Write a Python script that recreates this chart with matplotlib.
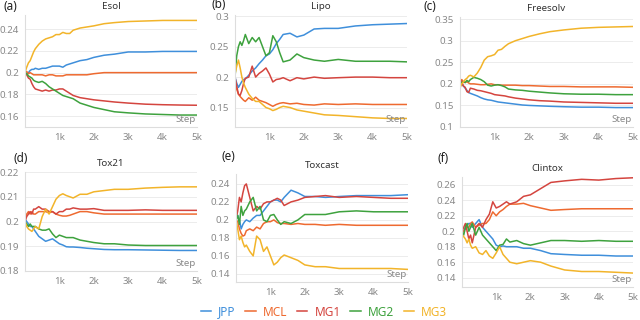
import matplotlib
matplotlib.use("Agg")
import matplotlib.pyplot as plt

plt.rcParams['font.family'] = ['Noto Sans', 'DejaVu Sans']

steps = [0, 50, 100, 150, 200, 250, 300, 400, 500, 600, 700, 800, 900, 1000, 1100,
         1200, 1300, 1400, 1600, 1800, 2000, 2300, 2600, 3000, 3500, 4000, 4500, 5000]

methods = ["JPP", "MCL", "MG1", "MG2", "MG3"]
colors = ["#3f8fdb", "#ee6a30", "#d4453f", "#3ea23e", "#f2b42a"]

# (a) Esol
esol_jpp = [0.2, 0.199, 0.2, 0.202, 0.203, 0.203, 0.204, 0.203, 0.204, 0.204, 0.205, 0.206, 0.206, 0.206, 0.205,
            0.207, 0.208, 0.209, 0.211, 0.212, 0.214, 0.216, 0.217, 0.219, 0.219, 0.2195, 0.2195, 0.2195]
esol_mcl = [0.2, 0.201, 0.199, 0.2, 0.199, 0.198, 0.198, 0.198, 0.198, 0.197, 0.198, 0.198, 0.197, 0.197, 0.197,
            0.198, 0.198, 0.198, 0.198, 0.198, 0.199, 0.2, 0.2, 0.2, 0.2, 0.2, 0.2, 0.2]
esol_mg1 = [0.2, 0.198, 0.195, 0.194, 0.19, 0.187, 0.185, 0.184, 0.183, 0.184, 0.183, 0.184, 0.184, 0.185, 0.185,
            0.183, 0.181, 0.179, 0.177, 0.176, 0.175, 0.174, 0.173, 0.172, 0.171, 0.1705, 0.1702, 0.17]
esol_mg2 = [0.2, 0.199, 0.197, 0.196, 0.195, 0.193, 0.192, 0.191, 0.192, 0.19, 0.187, 0.185, 0.183, 0.181, 0.179,
            0.178, 0.177, 0.176, 0.172, 0.17, 0.168, 0.166, 0.164, 0.163, 0.162, 0.1615, 0.161, 0.161]
esol_mg3 = [0.2, 0.205, 0.209, 0.211, 0.215, 0.219, 0.222, 0.226, 0.229, 0.231, 0.232, 0.233, 0.235, 0.235, 0.237,
            0.236, 0.236, 0.239, 0.241, 0.242, 0.243, 0.245, 0.246, 0.247, 0.2475, 0.248, 0.248, 0.248]

# (b) Lipo
lipo_jpp = [0.2, 0.19, 0.183, 0.188, 0.193, 0.196, 0.197, 0.203, 0.21, 0.215, 0.222, 0.228, 0.235, 0.238, 0.245,
            0.255, 0.262, 0.27, 0.272, 0.266, 0.269, 0.279, 0.28, 0.28, 0.284, 0.286, 0.287, 0.288]
lipo_mcl = [0.195, 0.18, 0.172, 0.168, 0.165, 0.162, 0.16, 0.166, 0.162, 0.167, 0.162, 0.16, 0.158, 0.155, 0.152,
            0.155, 0.157, 0.158, 0.156, 0.157, 0.155, 0.154, 0.156, 0.155, 0.156, 0.155, 0.155, 0.155]
lipo_mg1 = [0.2, 0.185, 0.172, 0.17, 0.178, 0.19, 0.198, 0.2, 0.218, 0.2, 0.206, 0.21, 0.215, 0.205, 0.192,
            0.196, 0.197, 0.199, 0.194, 0.199, 0.197, 0.2, 0.198, 0.199, 0.2, 0.2, 0.199, 0.199]
lipo_mg2 = [0.2, 0.235, 0.25, 0.258, 0.252, 0.26, 0.27, 0.255, 0.265, 0.258, 0.265, 0.25, 0.235, 0.24, 0.268,
            0.258, 0.24, 0.225, 0.228, 0.238, 0.232, 0.228, 0.226, 0.229, 0.226, 0.226, 0.226, 0.225]
lipo_mg3 = [0.205, 0.218, 0.228, 0.215, 0.2, 0.19, 0.183, 0.172, 0.165, 0.16, 0.16, 0.155, 0.15, 0.148, 0.145,
            0.147, 0.15, 0.152, 0.15, 0.146, 0.144, 0.141, 0.138, 0.137, 0.135, 0.133, 0.132, 0.132]

# (c) Freesolv
free_jpp = [0.2, 0.198, 0.195, 0.19, 0.185, 0.18, 0.178, 0.175, 0.172, 0.168, 0.165, 0.163, 0.162, 0.16, 0.158,
            0.157, 0.156, 0.155, 0.153, 0.151, 0.15, 0.149, 0.148, 0.147, 0.146, 0.146, 0.145, 0.145]
free_mcl = [0.205, 0.21, 0.205, 0.203, 0.205, 0.202, 0.2, 0.2, 0.199, 0.198, 0.198, 0.199, 0.2, 0.198, 0.198,
            0.197, 0.197, 0.197, 0.197, 0.196, 0.196, 0.195, 0.194, 0.194, 0.193, 0.193, 0.193, 0.192]
free_mg1 = [0.21, 0.205, 0.195, 0.192, 0.182, 0.18, 0.19, 0.188, 0.185, 0.184, 0.182, 0.18, 0.178, 0.175, 0.174,
            0.173, 0.172, 0.17, 0.167, 0.165, 0.163, 0.161, 0.16, 0.158, 0.157, 0.156, 0.155, 0.155]
free_mg2 = [0.2, 0.203, 0.205, 0.203, 0.208, 0.205, 0.21, 0.215, 0.213, 0.21, 0.205, 0.197, 0.195, 0.197, 0.198,
            0.196, 0.193, 0.188, 0.186, 0.185, 0.183, 0.181, 0.179, 0.177, 0.176, 0.176, 0.175, 0.175]
free_mg3 = [0.19, 0.2, 0.205, 0.21, 0.213, 0.218, 0.22, 0.216, 0.225, 0.238, 0.255, 0.263, 0.265, 0.268, 0.278,
            0.28, 0.287, 0.293, 0.3, 0.305, 0.31, 0.316, 0.321, 0.325, 0.329, 0.331, 0.332, 0.333]

# (d) Tox21
tox21_jpp = [0.201, 0.2, 0.199, 0.198, 0.198, 0.197, 0.196, 0.194, 0.193, 0.192, 0.1925, 0.193, 0.192, 0.191, 0.1905,
             0.1898, 0.1897, 0.1897, 0.1895, 0.1892, 0.189, 0.1887, 0.1886, 0.1886, 0.1885, 0.1884, 0.1883, 0.1883]
tox21_mcl = [0.201, 0.203, 0.204, 0.203, 0.204, 0.203, 0.203, 0.204, 0.204, 0.204, 0.2035, 0.204, 0.203, 0.2025, 0.2022,
             0.2022, 0.2025, 0.203, 0.204, 0.204, 0.2035, 0.203, 0.203, 0.203, 0.203, 0.203, 0.203, 0.203]
tox21_mg1 = [0.2, 0.202, 0.203, 0.204, 0.203, 0.205, 0.205, 0.206, 0.205, 0.205, 0.204, 0.204, 0.203, 0.204, 0.204,
             0.205, 0.205, 0.2055, 0.205, 0.205, 0.2052, 0.2045, 0.2045, 0.2045, 0.2047, 0.2045, 0.2045, 0.2045]
tox21_mg2 = [0.2, 0.199, 0.198, 0.199, 0.198, 0.198, 0.198, 0.197, 0.1965, 0.1965, 0.197, 0.195, 0.1935, 0.1945, 0.194,
             0.1935, 0.1935, 0.1935, 0.1925, 0.192, 0.1915, 0.191, 0.191, 0.1905, 0.1903, 0.1903, 0.1903, 0.1903]
tox21_mg3 = [0.2, 0.198, 0.197, 0.1965, 0.196, 0.197, 0.198, 0.197, 0.202, 0.205, 0.203, 0.206, 0.209, 0.2105, 0.2112,
             0.2105, 0.21, 0.2095, 0.211, 0.211, 0.212, 0.2125, 0.213, 0.213, 0.2135, 0.2138, 0.214, 0.214]

# (e) Toxcast
toxcast_jpp = [0.2, 0.205, 0.2, 0.19, 0.195, 0.198, 0.2, 0.198, 0.202, 0.205, 0.205, 0.21, 0.215, 0.22, 0.222,
               0.222, 0.22, 0.225, 0.233, 0.23, 0.226, 0.226, 0.225, 0.226, 0.227, 0.227, 0.227, 0.228]
toxcast_mcl = [0.2, 0.198, 0.19, 0.185, 0.182, 0.183, 0.188, 0.19, 0.188, 0.192, 0.19, 0.196, 0.198, 0.198, 0.2,
               0.197, 0.196, 0.196, 0.195, 0.196, 0.195, 0.195, 0.194, 0.195, 0.194, 0.194, 0.194, 0.194]
toxcast_mg1 = [0.2, 0.21, 0.225, 0.22, 0.23, 0.238, 0.24, 0.225, 0.21, 0.215, 0.212, 0.218, 0.22, 0.22, 0.222,
               0.224, 0.222, 0.216, 0.22, 0.222, 0.225, 0.226, 0.227, 0.225, 0.226, 0.225, 0.224, 0.224]
toxcast_mg2 = [0.2, 0.205, 0.195, 0.215, 0.205, 0.21, 0.212, 0.22, 0.225, 0.21, 0.215, 0.2, 0.198, 0.205, 0.206,
               0.2, 0.195, 0.198, 0.196, 0.2, 0.206, 0.206, 0.206, 0.209, 0.21, 0.209, 0.209, 0.209]
toxcast_mg3 = [0.2, 0.19, 0.178, 0.182, 0.175, 0.17, 0.172, 0.165, 0.16, 0.182, 0.178, 0.165, 0.17, 0.16, 0.15,
               0.153, 0.158, 0.161, 0.158, 0.155, 0.15, 0.148, 0.148, 0.146, 0.146, 0.146, 0.146, 0.145]

# (f) Clintox
clintox_jpp = [0.2, 0.2, 0.205, 0.208, 0.21, 0.21, 0.205, 0.21, 0.215, 0.205, 0.2, 0.195, 0.19, 0.182, 0.18,
               0.181, 0.18, 0.18, 0.18, 0.178, 0.178, 0.175, 0.171, 0.17, 0.169, 0.169, 0.168, 0.168]
clintox_mcl = [0.2, 0.2, 0.203, 0.205, 0.205, 0.21, 0.212, 0.205, 0.208, 0.21, 0.21, 0.215, 0.225, 0.22, 0.225,
               0.228, 0.232, 0.235, 0.235, 0.236, 0.233, 0.23, 0.227, 0.228, 0.229, 0.229, 0.229, 0.229]
clintox_mg1 = [0.2, 0.205, 0.21, 0.2, 0.19, 0.195, 0.185, 0.205, 0.21, 0.205, 0.215, 0.222, 0.238, 0.23, 0.232,
               0.235, 0.238, 0.235, 0.238, 0.245, 0.247, 0.255, 0.263, 0.265, 0.267, 0.266, 0.268, 0.269]
clintox_mg2 = [0.2, 0.195, 0.205, 0.21, 0.2, 0.205, 0.21, 0.195, 0.205, 0.195, 0.19, 0.185, 0.18, 0.175, 0.182,
               0.183, 0.19, 0.186, 0.188, 0.184, 0.182, 0.185, 0.188, 0.188, 0.187, 0.188, 0.187, 0.187]
clintox_mg3 = [0.196, 0.193, 0.19, 0.185, 0.19, 0.182, 0.178, 0.18, 0.172, 0.17, 0.175, 0.168, 0.165, 0.172, 0.18,
               0.17, 0.165, 0.16, 0.158, 0.16, 0.162, 0.16, 0.155, 0.15, 0.148, 0.148, 0.147, 0.146]

panels = [
    ("(a)", "Esol", [esol_jpp, esol_mcl, esol_mg1, esol_mg2, esol_mg3],
     [0.16, 0.18, 0.2, 0.22, 0.24], (0.15, 0.253)),
    ("(b)", "Lipo", [lipo_jpp, lipo_mcl, lipo_mg1, lipo_mg2, lipo_mg3],
     [0.15, 0.2, 0.25, 0.3], (0.118, 0.302)),
    ("(c)", "Freesolv", [free_jpp, free_mcl, free_mg1, free_mg2, free_mg3],
     [0.1, 0.15, 0.2, 0.25, 0.3, 0.35], (0.1, 0.355)),
    ("(d)", "Tox21", [tox21_jpp, tox21_mcl, tox21_mg1, tox21_mg2, tox21_mg3],
     [0.18, 0.19, 0.2, 0.21, 0.22], (0.18, 0.22)),
    ("(e)", "Toxcast", [toxcast_jpp, toxcast_mcl, toxcast_mg1, toxcast_mg2, toxcast_mg3],
     [0.14, 0.16, 0.18, 0.2, 0.22, 0.24], (0.131, 0.251)),
    ("(f)", "Clintox", [clintox_jpp, clintox_mcl, clintox_mg1, clintox_mg2, clintox_mg3],
     [0.14, 0.16, 0.18, 0.2, 0.22, 0.24, 0.26], (0.128, 0.27)),
]

# axes boxes in pixels: left, right, top, bottom
boxes = [(25, 197, 15, 127), (235, 407, 15, 127), (460, 633, 17, 127),
         (25, 197, 172, 271), (236, 408, 174, 282), (462, 633, 177, 287)]
letter_pos = [(3, 6), (211, 5), (423, 6), (13, 158), (221, 157), (437, 158)]

W, H = 640, 320
fig = plt.figure(figsize=(6.4, 3.2), dpi=100)

for i, (letter, title, series, yt, ylim) in enumerate(panels):
    l, r, t, b = boxes[i]
    ax = fig.add_axes([l / W, 1 - b / H, (r - l) / W, (b - t) / H])
    for vals, name, c in zip(series, methods, colors):
        ax.plot(steps, vals, color=c, lw=1.1, label=name)
    ax.set_xlim(0, 5000)
    ax.set_ylim(*ylim)
    ax.set_xticks([1000, 2000, 3000, 4000, 5000])
    ax.set_xticklabels(["1k", "2k", "3k", "4k", "5k"])
    ax.set_yticks(yt)
    ax.set_yticklabels([f"{v:g}" for v in yt])
    ax.tick_params(length=0, labelsize=7, labelcolor="#888888", pad=4.5)
    ax.grid(axis="y", color="#ececec", lw=0.7)
    ax.set_axisbelow(True)
    for s in ["top", "right"]:
        ax.spines[s].set_visible(False)
    for s in ["left", "bottom"]:
        ax.spines[s].set_color("#dddddd")
        ax.spines[s].set_linewidth(0.8)
    ax.set_title(title, fontsize=7, fontweight="bold", color="#333333", pad=4)
    ax.text(0.99, 0.03, "Step", transform=ax.transAxes, ha="right", va="bottom",
            fontsize=7, color="#888888")
    lx, ly = letter_pos[i]
    fig.text(lx / W, 1 - ly / H, letter, fontsize=8.5, color="#222222", va="center")

handles, labels = ax.get_legend_handles_labels()
fig.legend(handles, labels, loc="center", bbox_to_anchor=(324 / W, 1 - 312 / H), ncol=5,
           frameon=False, fontsize=8.5, labelcolor="linecolor", handlelength=0.9,
           handletextpad=0.6, columnspacing=0.8, borderaxespad=0)

fig.savefig("out.png", dpi=100)
